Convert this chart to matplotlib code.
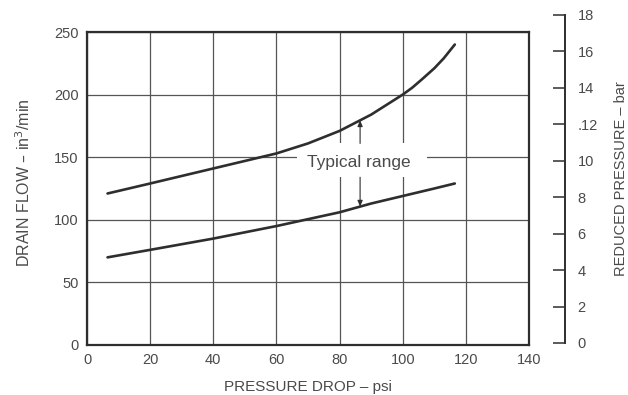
import matplotlib.pyplot as plt
from matplotlib.patches import Rectangle
import numpy as np

plt.rcParams['font.family'] = ['Liberation Sans', 'DejaVu Sans']

# pressure drop (psi) and drain flow (in^3/min)
drop_upper = [6.5, 20, 40, 60, 70, 80, 90, 100, 103, 106, 110, 113, 116.5]
flow_upper = [121, 129, 141, 153, 161, 171, 184, 200, 205.5, 212, 221, 229, 240]
drop_lower = [6.5, 20, 40, 60, 70, 80, 90, 100, 110, 116.5]
flow_lower = [70, 76, 85, 95, 100.5, 106, 113, 119, 125, 129]

x_ticks = [0, 20, 40, 60, 80, 100, 120, 140]
y_ticks = [0, 50, 100, 150, 200, 250]
bar_ticks = [0, 2, 4, 6, 8, 10, 12, 14, 16, 18]
bar_labels = ['0', '2', '4', '6', '8', '10', '.12', '14', '16', '18']

range_x = 86.5
label_text = 'Typical range'

ink = '#2e2e2e'
txt = '#4a4a4a'

fig = plt.figure(figsize=(6.28, 3.95), dpi=100)
ax = fig.add_axes([87 / 628, 50 / 395, 442 / 628, 313 / 395])
ax.set_xlim(0, 140)
ax.set_ylim(0, 250)
ax.set_xticks(x_ticks)
ax.set_yticks(y_ticks)
ax.grid(True, color='#555555', lw=0.9)
ax.set_axisbelow(True)
ax.tick_params(length=0, labelsize=10.5, colors=txt, pad=6)
for s in ax.spines.values():
    s.set_linewidth(1.6)
    s.set_color(ink)

ax.plot(drop_upper, flow_upper, color=ink, lw=1.9, solid_capstyle='round', zorder=3)
ax.plot(drop_lower, flow_lower, color=ink, lw=1.9, solid_capstyle='round', zorder=3)

# white patch hiding the grid behind the label
ax.add_patch(Rectangle((66.5, 134), 41.2, 27, fc='white', ec='none', zorder=1.5))
ax.text(range_x - 0.5, 145.5, label_text, ha='center', va='center', fontsize=12.5,
        color=txt, zorder=4)
up_end = np.interp(range_x, drop_upper, flow_upper)
lo_end = np.interp(range_x, drop_lower, flow_lower)
arrow = dict(arrowstyle='-|>,head_length=0.35,head_width=0.15', color=ink, lw=0.8,
             shrinkA=0, shrinkB=0)
ax.annotate('', xy=(range_x, up_end), xytext=(range_x, 161), arrowprops=arrow)
ax.annotate('', xy=(range_x, lo_end), xytext=(range_x, 134), arrowprops=arrow)

ax.set_xlabel('PRESSURE DROP – psi', fontsize=11, color=txt, labelpad=9)
ax.set_ylabel('DRAIN FLOW – in$^3$/min', fontsize=11.5, color=txt, labelpad=10)
ax.yaxis.set_label_coords(-0.122, 0.52)

# separate bar scale on the right
ax2 = fig.add_axes([553 / 628, 52 / 395, 12 / 628, 328 / 395])
ax2.set_ylim(0, 18)
ax2.set_xticks([])
for k in ['left', 'top', 'bottom']:
    ax2.spines[k].set_visible(False)
ax2.spines['right'].set_linewidth(1.4)
ax2.spines['right'].set_color(ink)
ax2.patch.set_alpha(0)
ax2.yaxis.tick_right()
ax2.set_yticks(bar_ticks)
ax2.set_yticklabels(bar_labels)
ax2.tick_params(axis='y', direction='in', length=9, width=1.1, color=ink,
                labelsize=10.5, labelcolor=txt, pad=9)
ax2.yaxis.set_label_position('right')
ax2.set_ylabel('REDUCED PRESSURE – bar', fontsize=10.5, color=txt, labelpad=12)

fig.savefig('out.png', dpi=100, facecolor='white')
